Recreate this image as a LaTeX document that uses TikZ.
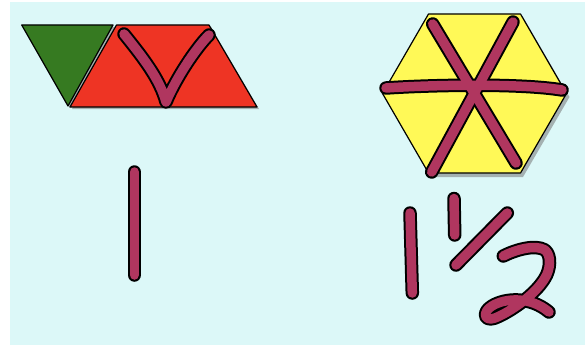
\documentclass[tikz,border=0pt]{standalone}
\usetikzlibrary{calc}
\definecolor{bg}{RGB}{220,248,248}
\definecolor{pgreen}{RGB}{54,122,33}
\definecolor{pred}{RGB}{238,52,36}
\definecolor{pyellow}{RGB}{255,249,87}
\definecolor{ink}{RGB}{176,54,95}
\definecolor{shade}{RGB}{150,160,160}
\tikzset{
  blockshape/.style={draw=black, line width=1.2pt, line join=round},
  shadowshape/.style={fill=shade, draw=none, opacity=0.8},
  inkout/.style={draw=black, line width=13.5pt, line cap=round, line join=round},
  inkin/.style={draw=ink, line width=9.5pt, line cap=round, line join=round},
}
\begin{document}
\begin{tikzpicture}[x=1pt,y=-1pt]
\useasboundingbox (0,0) rectangle (585,345);
\fill[bg] (10,2) rectangle (585,345);
% shadows
\fill[shadowshape] (23.5,27) -- (115,27) -- (70,108) -- cycle;
\fill[shadowshape] (118.5,27) -- (211,27) -- (259,109) -- (72,109) -- cycle;
\fill[shadowshape] (431,17) -- (523,17) -- (569.5,97) -- (523,177) -- (431,177) -- (385,97) -- cycle;
% blocks
\path[blockshape, fill=pgreen] (21.7,25) -- (113,25) -- (68,106) -- cycle;
\path[blockshape, fill=pred] (116.5,25) -- (209,25) -- (257,107) -- (70,107) -- cycle;
\path[blockshape, fill=pyellow] (428.5,14) -- (520.5,14) -- (566.5,93.5) -- (520.5,173) -- (428.5,173) -- (382.5,93.5) -- cycle;
% strokes: V
\foreach \s in {inkout,inkin}{
  \draw[\s] (124,34) .. controls (145,60) and (160,80) .. (166,102) .. controls (176,78) and (196,48) .. (209,35);
}
% hexagon strokes
\foreach \s in {inkout,inkin}{
  \draw[\s] (432.7,24) -- (516,163);
  \draw[\s] (513,22) -- (431.7,172);
  \draw[\s] (386,88) .. controls (430,85) and (520,83) .. (562,90);
}
% numeral 1
\foreach \s in {inkout,inkin}{
  \draw[\s] (134.3,172) -- (134.3,275);
}
% 1 1/2
\foreach \s in {inkout,inkin}{
  \draw[\s] (410,213) -- (412.3,293);
  \draw[\s] (454,198.5) -- (454.7,235);
  \draw[\s] (507.3,213) -- (456,265);
  \draw[\s] (503.3,256) .. controls (515,250) and (535,244) .. (545,250)
     .. controls (552,256) and (550,270) .. (545,278)
     .. controls (535,295) and (510,312) .. (495,318)
     .. controls (484,322) and (482,312) .. (492,306)
     .. controls (505,298) and (530,296) .. (549,312);
}
\end{tikzpicture}
\end{document}
